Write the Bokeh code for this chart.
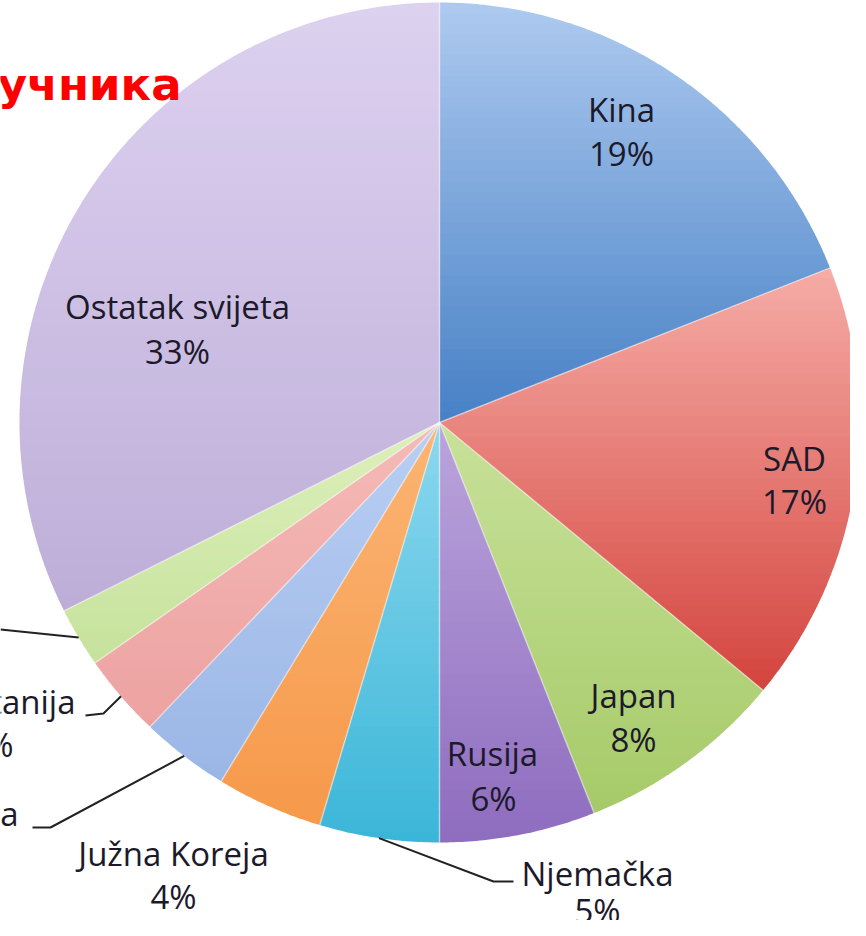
import math
from bokeh.plotting import figure
from bokeh.models import Range1d, ColumnDataSource
from bokeh.core.properties import value
from bokeh.embed import file_html
from bokeh.resources import INLINE

# ---------------- data ----------------
countries = ["Kina", "SAD", "Japan", "Rusija", "Njemačka", "Južna Koreja",
             "ka", "tanija", "?", "Ostatak svijeta"]
shares = [19, 17, 8, 6, 4.6, 4.1, 3.4, 3.2, 2.3, 32.4]
pct_labels = ["19%", "17%", "8%", "6%", "5%", "4%", "", "%", "", "33%"]
title_text = "учника"

# ---------------- style / layout ----------------
top_colors = ["#aecaf0", "#f6aca6", "#c8e19a", "#bba5dc", "#8cd8ef", "#fbb574",
              "#b9cff3", "#f5bab7", "#ddefbb", "#ddd1f0"]
bot_colors = ["#4680c5", "#d4443e", "#a6ca68", "#8e6cbf", "#3bb6d8", "#f6994a",
              "#9bb6e6", "#eca2a1", "#c6e29c", "#bdaed8"]
CX, CY, R = 439.0, 422.0, 420.0
FONT = value("Open Sans")
TXT = "#1c1a2a"
FS = 33          # label font size (px)
TS = 45          # title font size (px)
SHIFT = 0.42     # baseline correction (fraction of font size)

p = figure(width=850, height=920, x_range=Range1d(0, 850), y_range=Range1d(920, 0),
           x_axis_type=None, y_axis_type=None, output_backend="svg",
           toolbar_location=None, min_border=0)
p.outline_line_color = None
p.grid.visible = False
p.background_fill_color = "white"
p.border_fill_color = "white"


def hex2rgb(h):
    h = h.lstrip("#")
    return tuple(int(h[i:i + 2], 16) for i in (0, 2, 4))


def mix(c0, c1, t):
    a, b = hex2rgb(c0), hex2rgb(c1)
    return "#%02x%02x%02x" % tuple(int(round(a[i] + (b[i] - a[i]) * t)) for i in range(3))


def sector(a0, a1):
    n = max(6, int((a1 - a0) * 2))
    pts = [(CX, CY)]
    for i in range(n + 1):
        a = math.radians(a0 + (a1 - a0) * i / n)
        pts.append((CX + R * math.sin(a), CY - R * math.cos(a)))
    return pts


def clip(pts, y, keep_above):
    out = []
    m = len(pts)
    for i in range(m):
        P, Q = pts[i], pts[(i + 1) % m]
        inP = P[1] >= y if keep_above else P[1] <= y
        inQ = Q[1] >= y if keep_above else Q[1] <= y
        if inP:
            out.append(P)
        if inP != inQ:
            t = (y - P[1]) / (Q[1] - P[1])
            out.append((P[0] + t * (Q[0] - P[0]), y))
    return out


total = sum(shares)
xs, ys, cols = [], [], []
start = 0.0
mids, bounds = [], []
for i, s in enumerate(shares):
    a0 = start
    a1 = start + 360.0 * s / total
    start = a1
    mids.append((a0 + a1) / 2)
    bounds.append(a0)
    poly = sector(a0, a1)
    y_min = min(q[1] for q in poly)
    y_max = max(q[1] for q in poly)
    nb = 40
    h = (y_max - y_min) / nb
    for k in range(nb):
        ya = y_min + k * h
        yb = ya + h + 0.8
        part = clip(clip(poly, ya, True), yb, False)
        if len(part) < 3:
            continue
        xs.append([q[0] for q in part])
        ys.append([q[1] for q in part])
        cols.append(mix(top_colors[i], bot_colors[i], (k + 0.5) / nb))

p.patches(xs=xs, ys=ys, fill_color=cols, line_color=None)

# faint light separators between slices
sx = [[CX, CX + R * math.sin(math.radians(b))] for b in bounds]
sy = [[CY, CY - R * math.cos(math.radians(b))] for b in bounds]
p.multi_line(xs=sx, ys=sy, line_color="white", line_alpha=0.45, line_width=1.5)

# leader lines: from slice rim (mid-angle) to elbow and end points
leaders = {4: [(493, 881), (513, 881)],
           6: [(50, 827), (32, 827)],
           7: [(103, 713), (85, 715)],
           8: [(0, 629)]}
for i, pts in leaders.items():
    a = math.radians(mids[i])
    lx = [CX + R * math.sin(a)] + [q[0] for q in pts]
    ly = [CY - R * math.cos(a)] + [q[1] for q in pts]
    p.line(lx, ly, line_color="#222222", line_width=2)

# labels (name line, percent line) -- baseline positions
name_pos = {0: (621, 123), 1: (794, 472), 2: (633, 709), 3: (492, 767),
            4: (597, 887), 5: (173, 867), 9: (177, 320)}
pct_pos = {0: (621, 167), 1: (794, 515), 2: (633, 753), 3: (493, 812),
           4: (597, 924), 5: (173, 910), 9: (177, 365)}
dy = SHIFT * FS
src = ColumnDataSource(dict(
    x=[name_pos[i][0] for i in name_pos] + [pct_pos[i][0] for i in pct_pos],
    y=[name_pos[i][1] - dy for i in name_pos] + [pct_pos[i][1] - dy for i in pct_pos],
    t=[countries[i] for i in name_pos] + [pct_labels[i] for i in pct_pos]))
p.text(x="x", y="y", text="t", source=src, text_font=FONT, text_font_size=f"{FS}px",
       text_align="center", text_baseline="alphabetic", text_color=TXT)

# cut-off labels at the left edge (right aligned)
cut = ColumnDataSource(dict(x=[75, 18, 13], y=[715 - dy, 827 - dy, 758 - dy],
                            t=[countries[7], countries[6], pct_labels[7]]))
p.text(x="x", y="y", text="t", source=cut, text_font=FONT, text_font_size=f"{FS}px",
       text_align="right", text_baseline="alphabetic", text_color=TXT)

# red title fragment
p.text(x=[181], y=[103 - SHIFT * TS], text=[title_text], text_font=value("DejaVu Sans"),
       text_font_style="bold", text_font_size=f"{TS}px", text_align="right",
       text_baseline="alphabetic", text_color="#ff0000")

open("out.html", "w").write(file_html(p, INLINE))
